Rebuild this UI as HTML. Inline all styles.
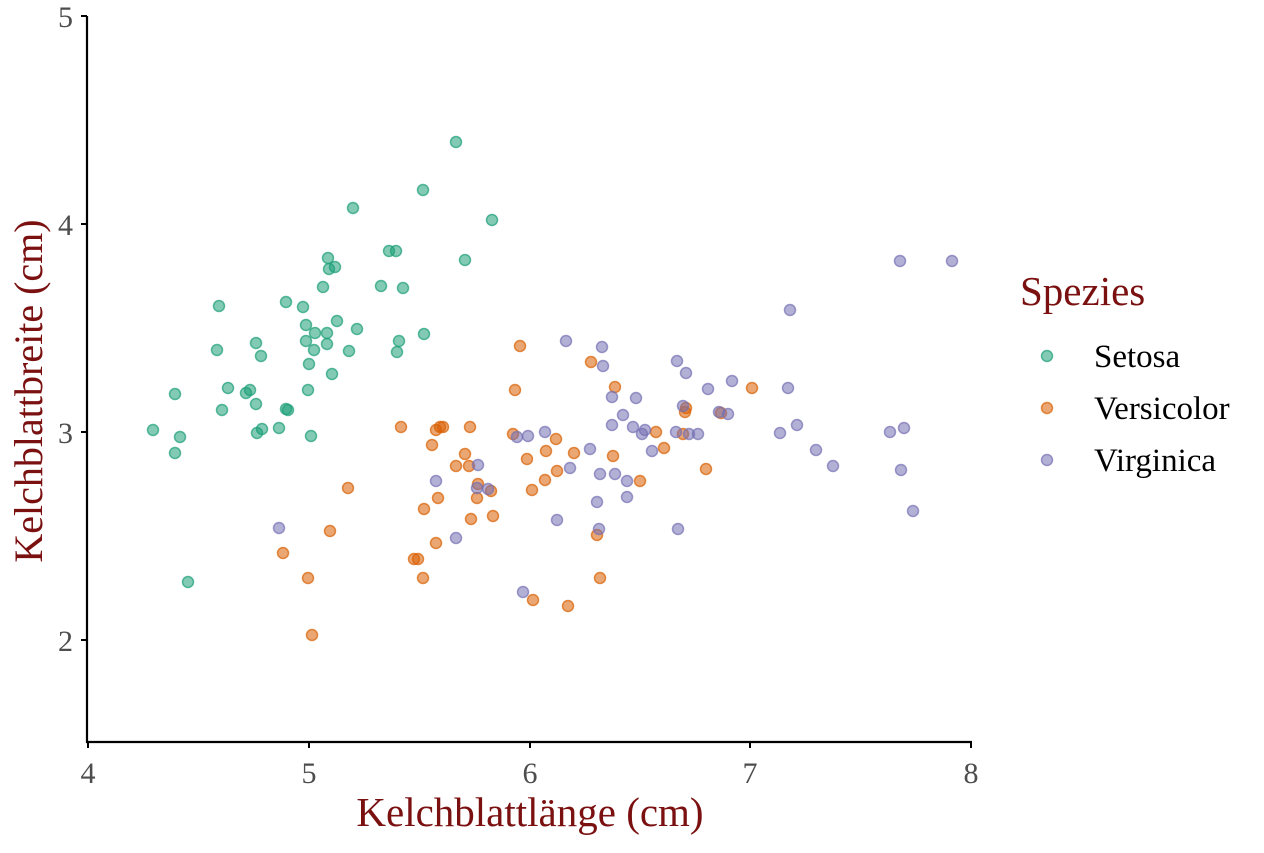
<!DOCTYPE html>
<html><head><meta charset="utf-8"><style>
html,body{margin:0;padding:0;background:#fff;}
svg text{font-family:"Liberation Serif",serif;}
</style></head><body>
<svg id="s" width="1264" height="848" xmlns="http://www.w3.org/2000/svg">
<g id="pts"></g>
<line x1="87" y1="16" x2="87" y2="743" stroke="#000" stroke-width="2.2"/>
<line x1="86" y1="742" x2="972" y2="742" stroke="#000" stroke-width="2.2"/>
<g stroke="#000" stroke-width="2">
<line x1="81" y1="16" x2="87" y2="16"/><line x1="81" y1="224" x2="87" y2="224"/><line x1="81" y1="432" x2="87" y2="432"/><line x1="81" y1="640" x2="87" y2="640"/>
<line x1="88" y1="742" x2="88" y2="748"/><line x1="309" y1="742" x2="309" y2="748"/><line x1="530" y1="742" x2="530" y2="748"/><line x1="750" y1="742" x2="750" y2="748"/><line x1="971" y1="742" x2="971" y2="748"/>
</g>
<g fill="#4d4d4d" font-size="30" text-anchor="end">
<text x="73" y="27">5</text><text x="73" y="235">4</text><text x="73" y="443">3</text><text x="73" y="651">2</text>
</g>
<g fill="#4d4d4d" font-size="30" text-anchor="middle">
<text x="88" y="783">4</text><text x="309" y="783">5</text><text x="530" y="783">6</text><text x="750" y="783">7</text><text x="971" y="783">8</text>
</g>
<text x="530" y="826" font-size="41" fill="#7a1010" text-anchor="middle">Kelchblattlänge (cm)</text>
<text transform="translate(42,391) rotate(-90)" font-size="40" fill="#7a1010" text-anchor="middle">Kelchblattbreite (cm)</text>
<text x="1020" y="305" font-size="41" fill="#7a1010">Spezies</text>
<circle cx="1047" cy="356" r="5.5" fill="rgba(27,158,119,0.55)" stroke="rgba(27,158,119,0.7)" stroke-width="1.5"/>
<circle cx="1047" cy="408" r="5.5" fill="rgba(217,95,2,0.55)" stroke="rgba(217,95,2,0.7)" stroke-width="1.5"/>
<circle cx="1047" cy="460" r="5.5" fill="rgba(117,112,179,0.55)" stroke="rgba(117,112,179,0.7)" stroke-width="1.5"/>
<g font-size="33" fill="#000"><text x="1094" y="367">Setosa</text><text x="1094" y="419">Versicolor</text><text x="1094" y="471">Virginica</text></g>
</svg>
<script>
var S=[[153,430],[175,394],[180,437],[175,453],[188,582],[219,306],[222,410],[228,388],[246,393],[250,390],[256,343],[256,404],[257,433],[261,356],[262,429],[279,428],[286,302],[286,409],[288,410],[303,307],[306,325],[306,341],[309,364],[308,390],[311,436],[314,350],[315,333],[323,287],[327,333],[327,344],[328,258],[329,269],[335,267],[332,374],[337,321],[349,351],[353,208],[357,329],[381,286],[389,251],[396,251],[403,288],[397,352],[399,341],[423,190],[424,334],[456,142],[465,260],[492,220],[217,350]];
var V=[[283,553],[308,578],[312,635],[330,531],[348,488],[401,427],[414,559],[418,559],[424,509],[423,578],[432,445],[436,430],[436,543],[440,427],[438,498],[443,427],[456,466],[465,454],[469,466],[471,519],[470,427],[477,498],[478,484],[491,491],[493,516],[513,434],[520,346],[515,390],[527,459],[532,490],[533,600],[545,480],[546,451],[556,439],[557,471],[568,606],[574,453],[591,362],[597,535],[600,578],[613,456],[615,387],[640,481],[656,432],[664,448],[683,434],[685,412],[686,408],[706,469],[721,413],[752,388]];
var G=[[279,528],[436,481],[456,538],[478,465],[477,488],[488,489],[517,437],[523,592],[528,436],[545,432],[557,520],[566,341],[570,468],[590,449],[597,502],[599,529],[600,474],[603,366],[602,347],[612,397],[615,474],[612,425],[623,415],[627,497],[627,481],[633,427],[636,398],[642,434],[645,430],[652,451],[677,361],[676,432],[678,529],[683,406],[686,373],[689,434],[698,434],[708,389],[719,412],[728,414],[732,381],[780,433],[788,388],[790,310],[797,425],[816,450],[833,466],[890,432],[900,261],[901,470],[904,428],[913,511],[952,261]];
var g=document.getElementById('pts'),h='';
function add(a,c){a.forEach(function(p){h+='<circle cx="'+p[0]+'" cy="'+p[1]+'" r="5.5" fill="rgba('+c+',0.55)" stroke="rgba('+c+',0.7)" stroke-width="1.5"/>';});}
add(S,'27,158,119');add(V,'217,95,2');add(G,'117,112,179');
g.innerHTML=h;
</script>
</body></html>
